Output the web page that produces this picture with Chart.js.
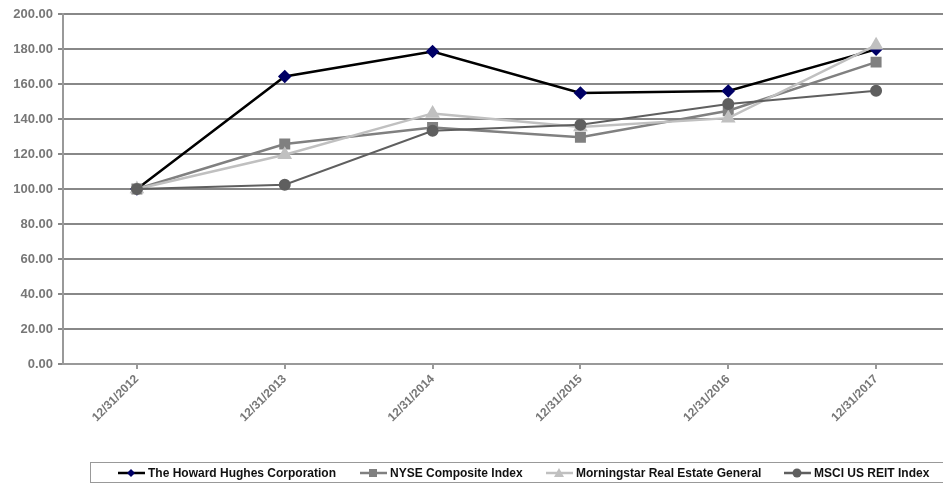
<!DOCTYPE html>
<html>
<head>
<meta charset="utf-8">
<script src="https://cdn.jsdelivr.net/npm/chart.js@4"></script>
<style>
  html, body { margin: 0; padding: 0; background: #fff; overflow: hidden; }
  #wrap { position: relative; width: 960px; height: 484px; }
  #legend {
    position: absolute; left: 90px; top: 462px; width: 900px; height: 21px;
    border: 1px solid #999; border-right: none; box-sizing: border-box;
    font: bold 12px "Liberation Sans", Arial, sans-serif; color: #111;
  }
  .item { position: absolute; top: 3px; white-space: nowrap; display: flex; align-items: center; }
  .item svg { margin-right: 3px; }
</style>
</head>
<body>
<div id="wrap">
  <canvas id="chart" width="960" height="484"></canvas>
  <div id="legend"></div>
</div>
<script>
const dates = ["12/31/2012", "12/31/2013", "12/31/2014", "12/31/2015", "12/31/2016", "12/31/2017"];
const seriesNames = [
    "The Howard Hughes Corporation", "NYSE Composite Index",
    "Morningstar Real Estate General", "MSCI US REIT Index"
];
const howardHughes = [100.00, 164.3, 178.6, 154.9, 156.0, 179.8];
const nyseComposite = [100.00, 125.7, 135.2, 129.6, 144.7, 172.5];
const morningstarRE = [100.00, 119.6, 143.2, 135.5, 140.5, 182.2];
const msciReit = [100.00, 102.4, 133.3, 136.7, 148.6, 156.2];
const yTicks = [0, 20, 40, 60, 80, 100, 120, 140, 160, 180, 200];

// line colour, marker colour, marker shape, marker size
const styles = [
    { line: "#000000", point: "#000066", shape: "rectRot", r: 5, w: 2.5 },
    { line: "#808080", point: "#808080", shape: "rect", r: 6, w: 2.5 },
    { line: "#c0c0c0", point: "#c0c0c0", shape: "triangle", r: 6, w: 2.5 },
    { line: "#5f5f5f", point: "#5f5f5f", shape: "circle", r: 5, w: 2 }
];
const allValues = [howardHughes, nyseComposite, morningstarRE, msciReit];

const datasets = allValues.map((vals, i) => ({
    label: seriesNames[i],
    data: vals,
    borderColor: styles[i].line,
    borderWidth: styles[i].w,
    backgroundColor: styles[i].point,
    pointBackgroundColor: styles[i].point,
    pointBorderColor: styles[i].point,
    pointStyle: styles[i].shape,
    pointRadius: styles[i].r,
    pointHoverRadius: styles[i].r,
    tension: 0,
    order: 4 - i   // later series drawn on top, like the original
}));

new Chart(document.getElementById('chart'), {
    type: 'line',
    data: { labels: dates, datasets: datasets },
    options: {
        responsive: false,
        animation: false,
        events: [],
        layout: { padding: { top: 14, right: 10, left: 0, bottom: 0 } },
        plugins: { legend: { display: false }, tooltip: { enabled: false } },
        scales: {
            x: {
                offset: true,
                grid: { drawOnChartArea: false, offset: false, tickLength: 5, color: '#999', lineWidth: 2 },
                border: { color: '#999', width: 2 },
                ticks: {
                    maxRotation: 45, minRotation: 45, padding: 3,
                    color: '#777',
                    font: { family: 'Liberation Sans, Arial', size: 12, weight: 'bold' }
                },
                afterFit: s => { s.height = 120; }
            },
            y: {
                min: 0, max: 200,
                afterBuildTicks: s => { s.ticks = yTicks.map(v => ({ value: v })); },
                grid: { color: '#888', lineWidth: 2, tickLength: 5 },
                border: { color: '#999', width: 2 },
                ticks: {
                    padding: 5,
                    color: '#777',
                    font: { family: 'Liberation Sans, Arial', size: 13, weight: 'bold' },
                    callback: v => v.toFixed(2)
                },
                afterFit: s => { s.width = 63; }
            }
        }
    }
});

// Legend: line sample with marker, then the series name
const legendX = [27, 269, 455, 693];
const legend = document.getElementById('legend');
seriesNames.forEach((name, i) => {
    const st = styles[i];
    let mark = '';
    if (st.shape === 'rectRot') mark = `<polygon points="13,1 17,5 13,9 9,5" fill="${st.point}"/>`;
    else if (st.shape === 'rect') mark = `<rect x="9" y="1" width="8" height="8" fill="${st.point}"/>`;
    else if (st.shape === 'triangle') mark = `<polygon points="13,0 18,9 8,9" fill="${st.point}"/>`;
    else mark = `<circle cx="13" cy="5" r="4.5" fill="${st.point}"/>`;
    const div = document.createElement('div');
    div.className = 'item';
    div.style.left = legendX[i] + 'px';
    div.innerHTML = `<svg width="27" height="10"><line x1="0" y1="5" x2="27" y2="5" stroke="${st.line}" stroke-width="2.5"/>${mark}</svg><span>${name}</span>`;
    legend.appendChild(div);
});
</script>
</body>
</html>
